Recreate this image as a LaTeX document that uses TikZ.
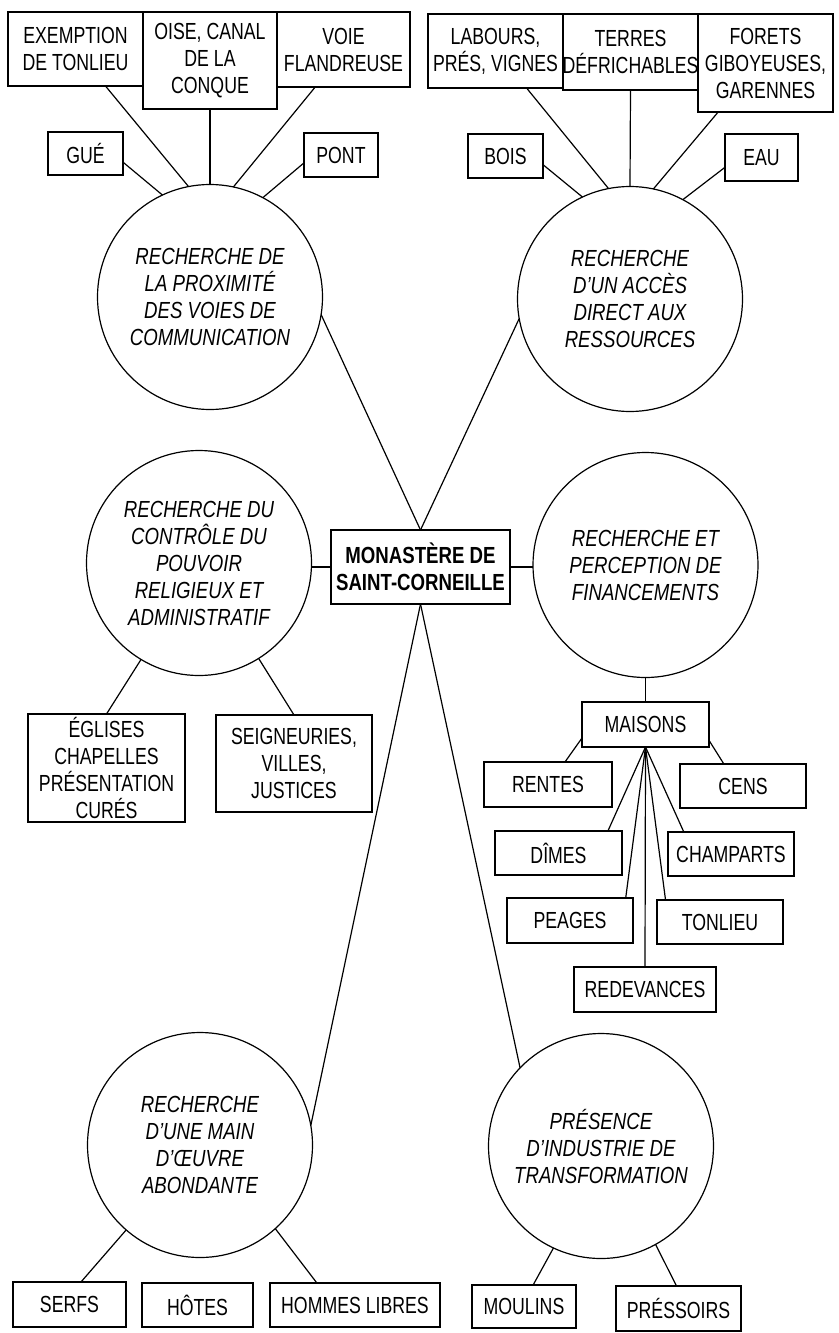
\documentclass[tikz,border=0pt]{standalone}
\usepackage{fontspec}
\setmainfont{Liberation Sans}[UprightFeatures={FakeStretch=0.76},
  BoldFeatures={FakeStretch=0.80}, ItalicFeatures={FakeStretch=0.80}]
\usepackage{tikz}
\usetikzlibrary{calc}
\tikzset{
    box node/.style={draw=black, line width=1.2pt, rectangle, align=center,
      inner sep=0pt, outer sep=0pt, font=\fontsize{23.3}{27}\selectfont},
    circ node/.style={draw=black, line width=1.2pt, circle, align=center,
      inner sep=0pt, outer sep=0pt, minimum size=225pt,
      font=\fontsize{23.3}{27}\selectfont\itshape},
    link line/.style={line width=1.2pt, draw=black}
}

\begin{document}
\begin{tikzpicture}[x=1pt, y=-1pt]
  \useasboundingbox (0,0) rectangle (838,1333);

  % centre
  \node[box node, minimum width=179, minimum height=74,
    font=\fontsize{23.3}{27}\selectfont\bfseries] (monastere) at (420.5,567)
    {MONASTÈRE DE\\SAINT-CORNEILLE};

  % circles
  \node[circ node] (voies) at (210,297)
    {RECHERCHE DE\\LA PROXIMITÉ\\DES VOIES DE\\COMMUNICATION};
  \node[circ node] (ressources) at (630,299)
    {RECHERCHE\\D’UN ACCÈS\\DIRECT AUX\\RESSOURCES};
  \node[circ node] (controle) at (199,563)
    {RECHERCHE DU\\CONTRÔLE DU\\POUVOIR\\RELIGIEUX ET\\ADMINISTRATIF};
  \node[circ node] (financements) at (645.5,565)
    {RECHERCHE ET\\PERCEPTION DE\\FINANCEMENTS};
  \node[circ node] (main) at (200,1145)
    {RECHERCHE\\D’UNE MAIN\\D’ŒUVRE\\ABONDANTE};
  \node[circ node] (industrie) at (601,1146)
    {PRÉSENCE\\D’INDUSTRIE DE\\TRANSFORMATION};

  % top left
  \node[box node, minimum width=135, minimum height=74] (exemption)
    at (75.5,49) {EXEMPTION\\DE TONLIEU};
  \node[box node, minimum width=134, minimum height=97] (oise)
    at (210,60.5) {OISE, CANAL\\DE LA\\CONQUE};
  \node[box node, minimum width=133, minimum height=75] (voie)
    at (343.5,49.5) {VOIE\\FLANDREUSE};
  \node[box node, minimum width=75, minimum height=43] (gue)
    at (85.5,153.5) {GUÉ};
  \node[box node, minimum width=74, minimum height=44] (pont)
    at (341,155) {PONT};

  % top right
  \node[box node, minimum width=135, minimum height=74] (labours)
    at (495.5,51) {LABOURS,\\PRÉS, VIGNES};
  \node[box node, minimum width=135, minimum height=76] (terres)
    at (630.5,52) {TERRES\\DÉFRICHABLES};
  \node[box node, minimum width=135, minimum height=98] (forets)
    at (765.5,63) {FORETS\\GIBOYEUSES,\\GARENNES};
  \node[box node, minimum width=75, minimum height=44] (bois)
    at (505.5,156) {BOIS};
  \node[box node, minimum width=73, minimum height=47] (eau)
    at (761.5,157.5) {EAU};

  % left
  \node[box node, minimum width=157, minimum height=108] (eglises)
    at (106.5,768) {ÉGLISES\\CHAPELLES\\PRÉSENTATION\\CURÉS};
  \node[box node, minimum width=156, minimum height=97] (seigneuries)
    at (294,763.5) {SEIGNEURIES,\\VILLES,\\JUSTICES};

  % right
  \node[box node, minimum width=127, minimum height=45] (maisons)
    at (645.5,724.5) {MAISONS};
  \node[box node, minimum width=128, minimum height=45] (rentes)
    at (548,784.5) {RENTES};
  \node[box node, minimum width=126, minimum height=44] (cens)
    at (743,786) {CENS};
  \node[box node, minimum width=127, minimum height=44] (dimes)
    at (558.5,853) {DÎMES};
  \node[box node, minimum width=126, minimum height=44] (champarts)
    at (731,854) {CHAMPARTS};
  \node[box node, minimum width=126, minimum height=45] (peages)
    at (570,920.5) {PEAGES};
  \node[box node, minimum width=126, minimum height=44] (tonlieu)
    at (720,922) {TONLIEU};
  \node[box node, minimum width=142, minimum height=45] (redevances)
    at (645,989.5) {REDEVANCES};

  % bottom
  \node[box node, minimum width=113, minimum height=45] (serfs)
    at (69.5,1304.5) {SERFS};
  \node[box node, minimum width=111, minimum height=44] (hotes)
    at (197.5,1305) {HÔTES};
  \node[box node, minimum width=170, minimum height=44] (hommes)
    at (355,1305) {HOMMES LIBRES};
  \node[box node, minimum width=104, minimum height=43] (moulins)
    at (524,1306.5) {MOULINS};
  \node[box node, minimum width=125, minimum height=45] (pressoirs)
    at (678.5,1308.5) {PRÉSSOIRS};

  % links top
  \draw[link line] (exemption.-51) -- (voies.101);
  \draw[link line] (oise.south) -- (voies.north);
  \draw[link line] (voie.-127) -- (voies.78);
  \draw[link line] (gue.-13) -- (voies.115);
  \draw[link line] (pont.-168) -- (voies.62);
  \draw[link line] (labours.-50) -- (ressources.101);
  \draw[link line] (terres.south) -- (ressources.north);
  \draw[link line] (forets.-134) -- (ressources.78);
  \draw[link line] (bois.-13) -- (ressources.115);
  \draw[link line] (eau.-165) -- (ressources.62);

  % links centre
  \draw[link line] (voies.-9) -- (monastere.north);
  \draw[link line] (ressources.190) -- (monastere.north);
  \draw[link line] (monastere.west) -- (monastere.west -| controle.east);
  \draw[link line] (monastere.east) -- (monastere.east -| financements.west);
  \draw[link line] (monastere.south) -- (main.10);
  \draw[link line] (monastere.south) -- (industrie.136);

  % links left and right
  \draw[link line] (controle.-121) -- (eglises.north);
  \draw[link line] (controle.-58) -- (seigneuries.north);
  \draw[link line] (financements.south) -- (maisons.north);
  \draw[link line] (maisons.192) -- (rentes.53);
  \draw[link line] (maisons.-14) -- (cens.131);
  \draw[link line] (maisons.south) -- (dimes.24);
  \draw[link line] (maisons.south) -- (champarts.155);
  \draw[link line] (maisons.south) -- (peages.22);
  \draw[link line] (maisons.south) -- (tonlieu.158);
  \draw[link line] (maisons.south) -- (redevances.north);

  % links bottom
  \draw[link line] (main.-131) -- (serfs.63);
  \draw[link line] (main.-48) -- (hommes.150);
  \draw[link line] (industrie.-115) -- (moulins.67);
  \draw[link line] (industrie.-61) -- (pressoirs.95);
\end{tikzpicture}
\end{document}
